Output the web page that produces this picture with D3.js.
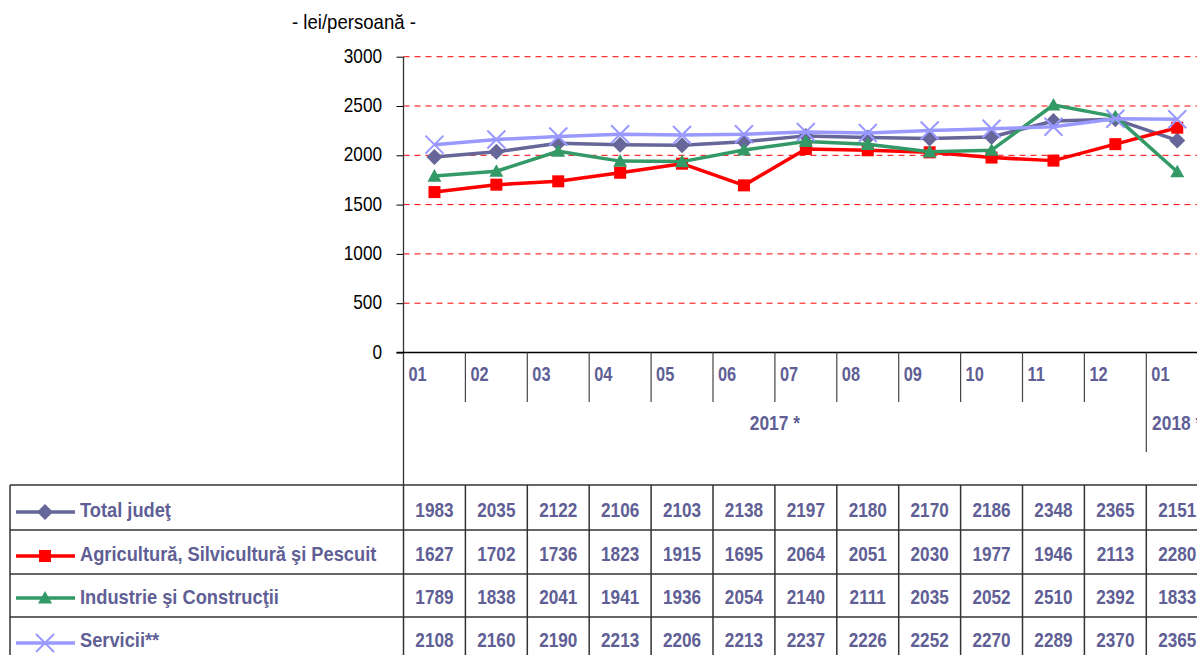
<!DOCTYPE html>
<html>
<head>
<meta charset="utf-8">
<script src="https://cdn.jsdelivr.net/npm/d3@7"></script>
<style>
  html, body { margin: 0; padding: 0; background: #fff; }
  svg { display: block; font-family: "Liberation Sans", Arial, sans-serif; }
</style>
</head>
<body>
<svg id="chart" width="1197" height="655"></svg>
<script>
// ---- Data ----
const months = ["01","02","03","04","05","06","07","08","09","10","11","12","01"];
const years = [{label: "2017 *", from: 0, to: 11}, {label: "2018 *", from: 12, to: 12}];
const yTicks = [0, 500, 1000, 1500, 2000, 2500, 3000];
const unitLabel = "- lei/persoană -";

const seriesNames = ["Total judeţ", "Agricultură, Silvicultură şi Pescuit", "Industrie şi Construcţii", "Servicii**"];
const totalJudet = [1983, 2035, 2122, 2106, 2103, 2138, 2197, 2180, 2170, 2186, 2348, 2365, 2151];
const agricultura = [1627, 1702, 1736, 1823, 1915, 1695, 2064, 2051, 2030, 1977, 1946, 2113, 2280];
const industrie = [1789, 1838, 2041, 1941, 1936, 2054, 2140, 2111, 2035, 2052, 2510, 2392, 1833];
const servicii = [2108, 2160, 2190, 2213, 2206, 2213, 2237, 2226, 2252, 2270, 2289, 2370, 2365];

const series = [
  {name: seriesNames[0], values: totalJudet, color: "#666699", marker: "diamond"},
  {name: seriesNames[1], values: agricultura, color: "#FF0000", marker: "square"},
  {name: seriesNames[2], values: industrie, color: "#339966", marker: "triangle"},
  {name: seriesNames[3], values: servicii, color: "#9999FF", marker: "cross"}
];
const drawOrder = [0, 1, 2, 3];

// ---- Layout ----
const svg = d3.select("#chart");
const W = 1197;
const left = 403.5, colW = 61.9;
const yTop = 56.7, yBottom = 352.5;
const textColor = "#5F5F96";
const rowLines = [485, 530, 574, 617, 661];
const rowLineY = [512, 556, 598, 643];
const rowBaseline = [517, 561, 604, 647];

const x = d3.scaleBand().domain(d3.range(months.length)).range([left, left + colW * months.length]).paddingInner(0).paddingOuter(0);
const y = d3.scaleLinear().domain([0, 3000]).range([yBottom, yTop]);
const cx = i => x(i) + x.bandwidth() / 2;
const edge = i => left + colW * i;

function scaledText(g, tx, ty, txt, opts) {
  const sx = opts.sx || 0.85;
  return g.append("text")
    .attr("transform", `translate(${tx},${ty}) scale(${sx},1)`)
    .attr("text-anchor", opts.anchor || "start")
    .attr("font-size", opts.size || 20)
    .attr("font-weight", opts.weight || "normal")
    .attr("fill", opts.fill || "#000")
    .text(txt);
}

// Grid lines
const grid = svg.append("g");
yTicks.filter(v => v > 0).forEach(v => {
  grid.append("line")
    .attr("x1", left).attr("x2", W)
    .attr("y1", y(v)).attr("y2", y(v))
    .attr("stroke", "#FF0000").attr("stroke-width", 1)
    .attr("stroke-dasharray", "6,5");
});

// Y axis
const yAxis = d3.axisLeft(y).tickValues(yTicks).tickSize(7).tickFormat("");
const yg = svg.append("g").attr("transform", `translate(${left},0)`).call(yAxis);
yg.select(".domain").remove();
yg.selectAll(".tick line").attr("stroke", "#000").attr("stroke-width", 1);
svg.append("line").attr("x1", left).attr("x2", left).attr("y1", yTop).attr("y2", rowLines[0])
  .attr("stroke", "#333").attr("stroke-width", 1.3);
yTicks.forEach(v => {
  scaledText(svg, 382, y(v) + 6, d3.format("d")(v), {anchor: "end", size: 20, sx: 0.86});
});
scaledText(svg, 292, 29, unitLabel, {size: 20, sx: 0.93});

// X axis
svg.append("line").attr("x1", left - 7).attr("x2", W).attr("y1", yBottom).attr("y2", yBottom)
  .attr("stroke", "#000").attr("stroke-width", 1.6);
for (let i = 1; i < months.length; i++) {
  const isYearBreak = years.some(yr => yr.from === i);
  svg.append("line").attr("x1", x(i)).attr("x2", x(i))
    .attr("y1", yBottom).attr("y2", isYearBreak ? 452 : 402)
    .attr("stroke", "#444").attr("stroke-width", 1.2);
}
months.forEach((m, i) => {
  scaledText(svg, x(i) + 5, 381, m, {size: 20, sx: 0.82, weight: "bold", fill: textColor});
});
years.forEach(yr => {
  const c = (x(yr.from) + x(yr.to) + x.bandwidth()) / 2;
  scaledText(svg, c, 430, yr.label, {anchor: "middle", size: 20, sx: 0.87, weight: "bold", fill: textColor});
});

// Markers
function drawMarker(g, type, px, py, color, scale) {
  const s = scale || 1;
  if (type === "diamond") {
    const r = 8 * s;
    g.append("path").attr("d", `M${px},${py - r}L${px + r},${py}L${px},${py + r}L${px - r},${py}Z`).attr("fill", color);
  } else if (type === "square") {
    const r = 6 * s;
    g.append("rect").attr("x", px - r).attr("y", py - r).attr("width", 2 * r).attr("height", 2 * r).attr("fill", color);
  } else if (type === "triangle") {
    const r = 7 * s;
    g.append("path").attr("d", `M${px},${py - r}L${px + r},${py + r * 0.8}L${px - r},${py + r * 0.8}Z`).attr("fill", color);
  } else if (type === "cross") {
    const r = 9 * s;
    g.append("path").attr("d", `M${px - r},${py - r}L${px + r},${py + r}M${px - r},${py + r}L${px + r},${py - r}`)
      .attr("stroke", color).attr("stroke-width", 2).attr("fill", "none");
  }
}

const line = d3.line().x((d, i) => cx(i)).y(d => y(d));
drawOrder.forEach(k => {
  const s = series[k];
  const g = svg.append("g");
  g.append("path").datum(s.values).attr("d", line)
    .attr("fill", "none").attr("stroke", s.color).attr("stroke-width", 3.5).attr("stroke-linejoin", "round");
  s.values.forEach((v, i) => drawMarker(g, s.marker, cx(i), y(v), s.color));
});

// Table
const tbl = svg.append("g");
rowLines.forEach(ry => {
  tbl.append("line").attr("x1", 10).attr("x2", W).attr("y1", ry).attr("y2", ry)
    .attr("stroke", "#333").attr("stroke-width", 1.5);
});
tbl.append("line").attr("x1", 10).attr("x2", 10).attr("y1", rowLines[0]).attr("y2", 661)
  .attr("stroke", "#333").attr("stroke-width", 1.5);
for (let i = 0; i <= months.length; i++) {
  tbl.append("line").attr("x1", edge(i)).attr("x2", edge(i))
    .attr("y1", rowLines[0]).attr("y2", 661)
    .attr("stroke", "#333").attr("stroke-width", 1.5);
}
series.forEach((s, r) => {
  const ly = rowLineY[r];
  tbl.append("line").attr("x1", 16).attr("x2", 75).attr("y1", ly).attr("y2", ly)
    .attr("stroke", s.color).attr("stroke-width", 3.5);
  drawMarker(tbl, s.marker, 45, ly, s.color);
  scaledText(tbl, 80, rowBaseline[r], s.name, {size: 21, sx: 0.87, weight: "bold", fill: textColor});
  s.values.forEach((v, i) => {
    scaledText(tbl, cx(i), rowBaseline[r], String(v), {anchor: "middle", size: 20, sx: 0.86, weight: "bold", fill: textColor});
  });
});
</script>
</body>
</html>
